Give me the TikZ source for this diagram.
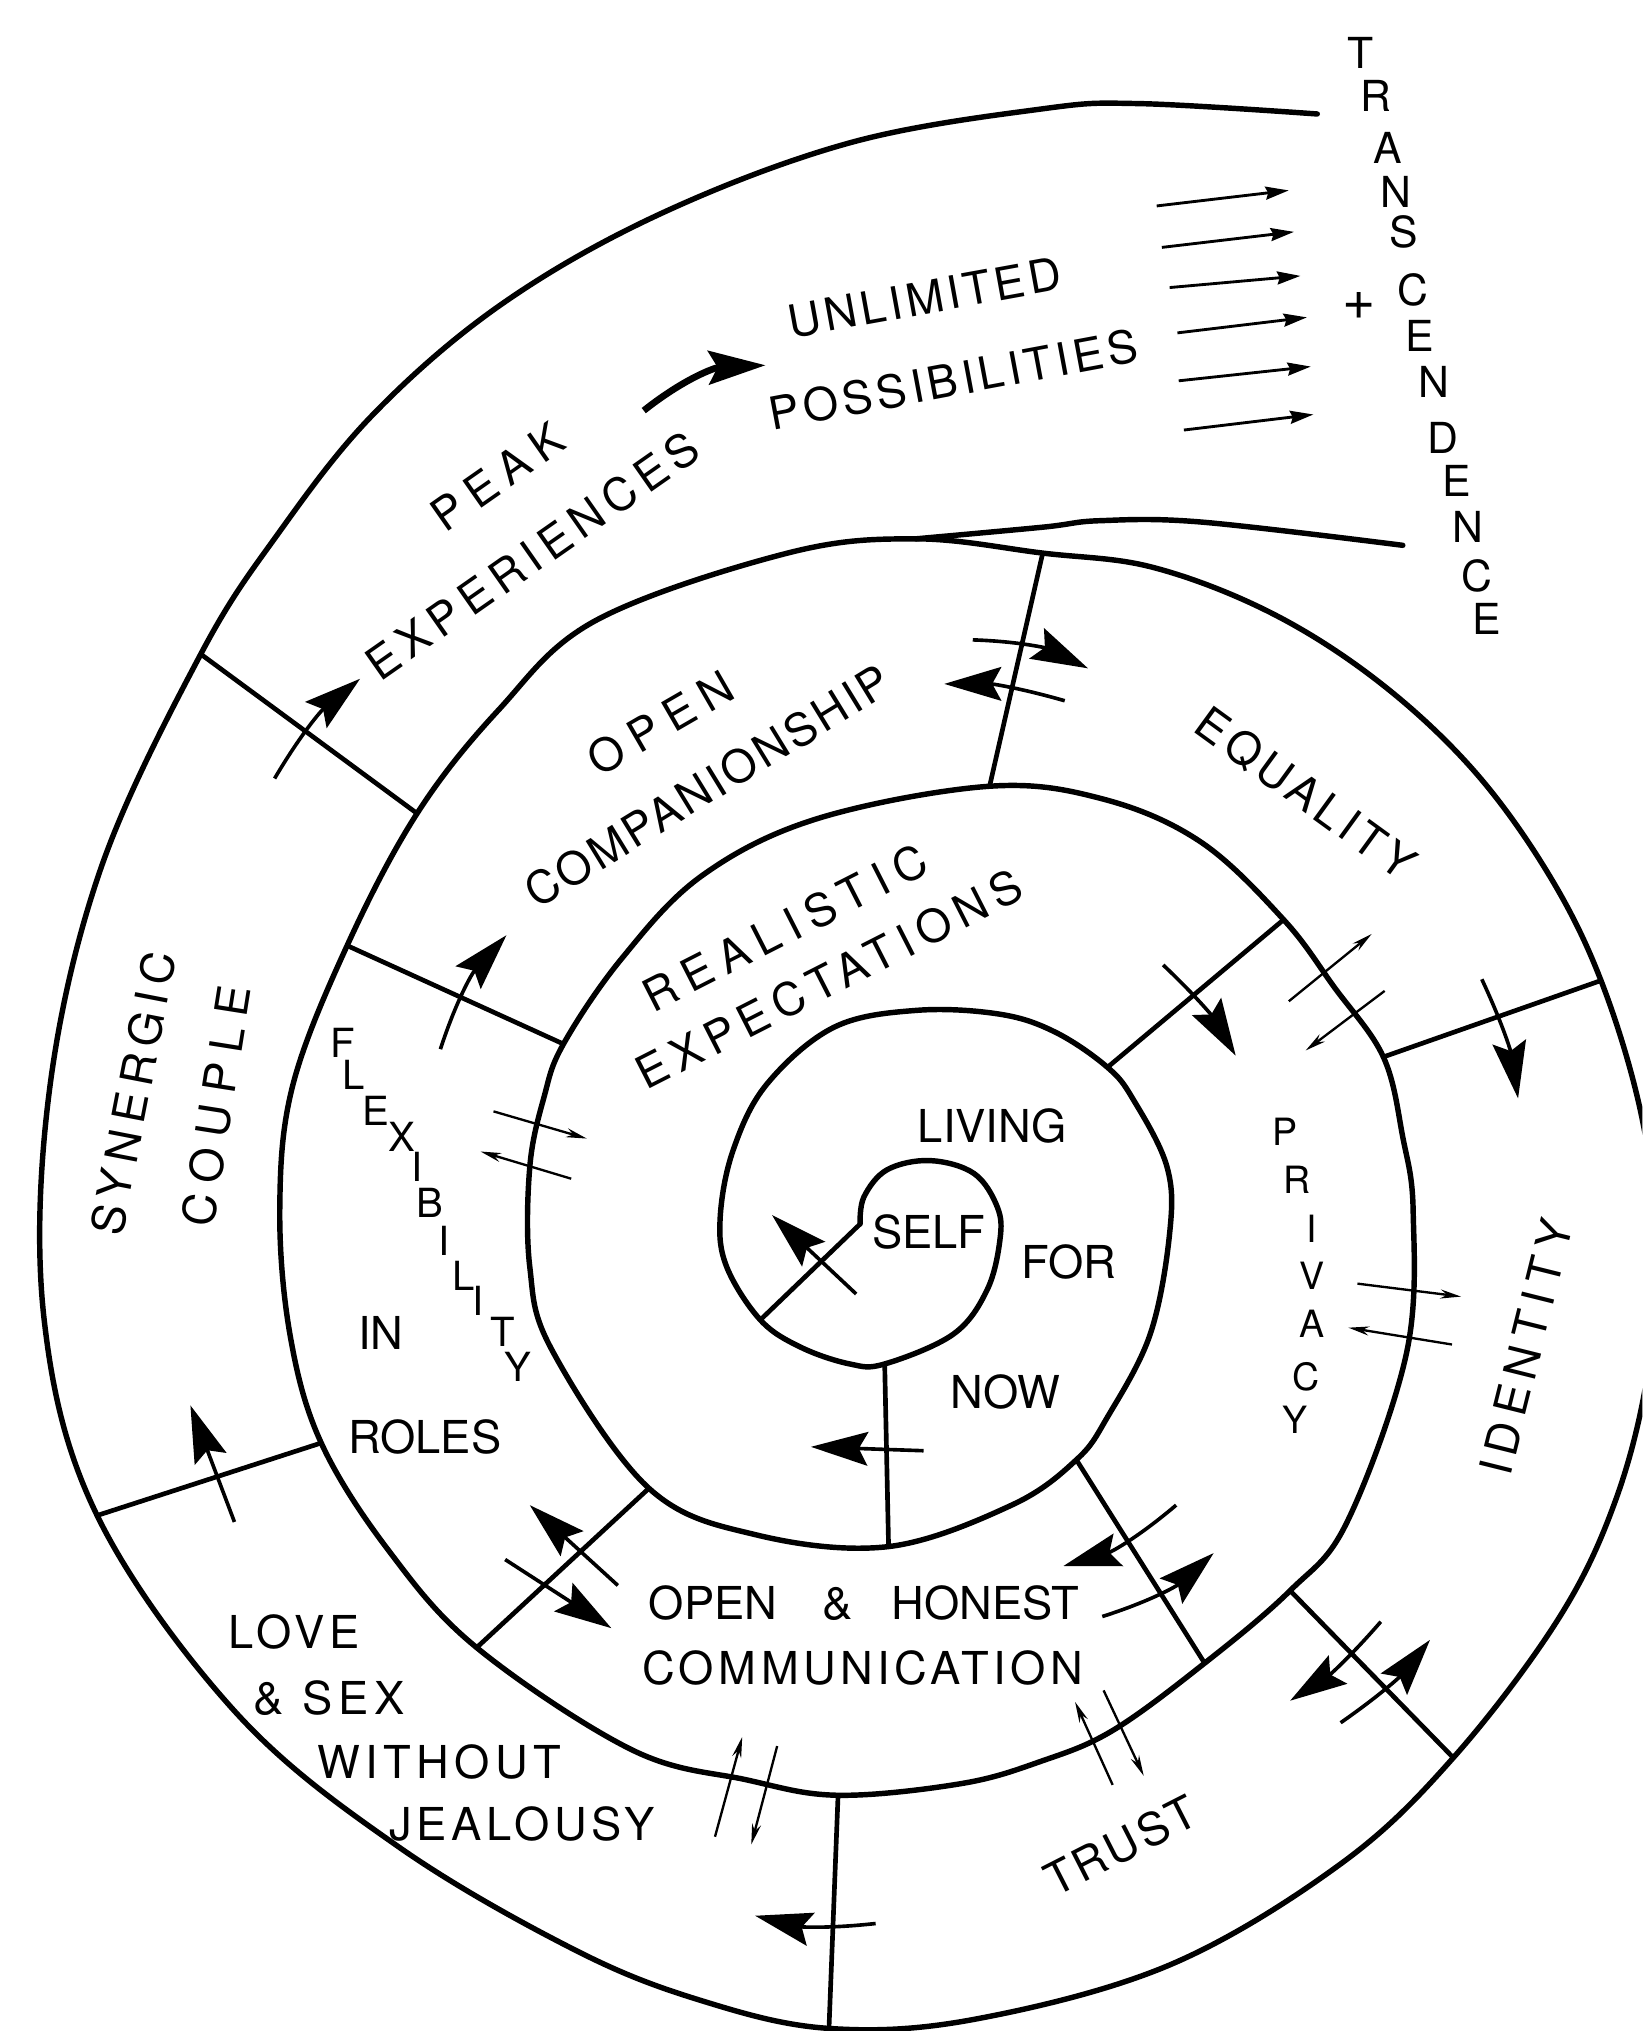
\documentclass[tikz,border=0pt]{standalone}
\usepackage{fontspec}
\setmainfont{TeX Gyre Heros}
\usetikzlibrary{arrows.meta}
\newcommand\labsize{\fontsize{17.5}{20}\selectfont}
\tikzset{
  wall/.style={line width=2.1pt, line cap=round, line join=round},
  bar/.style={line width=1.8pt},
  bigarrow/.style={line width=1.4pt, -{Stealth[length=22pt,width=13pt,inset=3.5pt]}},
  thinarrow/.style={line width=0.9pt, -{Stealth[length=8pt,width=3.5pt]}},
  farrow/.style={line width=1.1pt, -{Stealth[length=9pt,width=5pt,inset=1pt]}},
  lab/.style={font=\labsize, inner sep=0pt},
  wide/.style={font=\labsize\addfontfeatures{LetterSpace=#1}, inner sep=0pt},
  glyph/.style={font=\fontsize{#1}{#1}\selectfont, inner sep=0pt}
}
\begin{document}
\begin{tikzpicture}[x=0.5pt,y=-0.5pt]
\useasboundingbox (0,0) rectangle (1268,1568);
\clip (0,0) rectangle (1268,1568);

% points where the dividers meet the spiral
\coordinate (cusp) at (664,945);
\coordinate (s1) at (587,1019);
\coordinate (v1) at (683,1053);
\coordinate (v2) at (686,1194);
\coordinate (p3) at (855,824);
\coordinate (q3) at (991,710);
\coordinate (p4) at (831,1127);
\coordinate (q4) at (930,1284);
\coordinate (p5) at (501,1149);
\coordinate (q5) at (368,1272);
\coordinate (p6) at (435,806);
\coordinate (q6) at (268,730);
\coordinate (p7) at (764,607);
\coordinate (q7) at (805,427);
\coordinate (p8) at (1068,816);
\coordinate (q8) at (1236,757);
\coordinate (pit) at (996,1228);
\coordinate (qit) at (1122,1357);
\coordinate (ptl) at (647,1386);
\coordinate (qtl) at (640,1566);
\coordinate (pls) at (248,1114);
\coordinate (qls) at (75,1170);
\coordinate (psp) at (322,628);
\coordinate (qsp) at (155,505);
\coordinate (br) at (707,416);

% the spiral
\draw[wall] plot[smooth,tension=0.6] coordinates {
  (cusp) (667,924) (685,903) (718,896) (752,906) (770,932) (772,957)
  (762,996) (736,1030) (v1) (656,1053) (618,1040) (s1) (561,978)
  (556,940) (566,888) (592,837) (644,793) (708,780) (772,783) (815,797)
  (p3) (875,849) (901,901) (903,952) (888,1030) (855,1094) (p4) (781,1162)
  (v2) (584,1185) (p5) (426,1042) (409,978) (409,901) (420,847) (p6)
  (480,740) (542,676) (631,632) (p7) (852,617) (927,650) (q3) (1030,762)
  (p8) (1083,878) (1091,935) (1086,1044) (1040,1175) (pit) (q4) (859,1336)
  (803,1360) (742,1377) (ptl) (576,1374) (488,1351) (q5) (300,1197) (pls)
  (224,1031) (216,933) (226,838) (q6) (psp) (385,548) (460,479) (608,427)
  (br) (q7) (890,438) (981,473) (1064,526) (1137,594) (1195,674) (q8)
  (1267,860) (1279,960) (1272,1061) (1247,1159) (1203,1250) (qit)
  (1035,1439) (903,1517) (752,1559) (qtl) (543,1545) (445,1506) (308,1426)
  (182,1322) (qls) (34,1018) (38,843) (78,670) (qsp) (214,413) (288,320)
  (387,235) (510,165) (657,110) (805,84) (880,80) (1017,88)};
\draw[wall] plot[smooth,tension=0.6] coordinates {
  (br) (805,407) (849,402) (927,403) (1083,421)};

% dividers
\foreach \a/\b in {cusp/s1, v1/v2, p3/q3, p4/q4, p5/q5, p6/q6, p7/q7,
                   p8/q8, pit/qit, ptl/qtl, pls/qls, psp/qsp}
  \draw[bar] (\a) -- (\b);

% big arrows
\foreach \n/\x/\y in {a1/661/999, b1/596/938, a2/713/1120, b2/626/1117,
    a3/898/745, b3/954/815, a4/1144/756, b4/1172/848,
    a5/908/1162, b5/821/1209, a6/851/1248, b6/937/1199,
    a7/477/1224, b7/409/1162, a8/390/1204, b8/472/1257,
    a9/676/1485, b9/583/1479, a10/181/1175, b10/147/1085,
    a11/212/601, b11/278/524, a12/340/810, b12/391/722,
    a13/751/494, b13/840/516, a14/822/541, b14/729/528,
    a15/497/317, b15/591/282, a16/1066/1252, b16/996/1313,
    a17/1035/1330, b17/1104/1266}
  \coordinate (\n) at (\x,\y);
\foreach \i in {1,2,7,8,10}
  \draw[bigarrow] (a\i) -- (b\i);
\foreach \i/\b in {3/8,4/8,5/12,9/10,11/10,12/12,13/12,16/8}
  \draw[bigarrow] (a\i) to[bend left=\b] (b\i);
\foreach \i/\b in {6/12,14/8,17/8}
  \draw[bigarrow] (a\i) to[bend right=\b] (b\i);
\draw[bigarrow,line width=2.6pt] (a15) to[bend left=18] (b15);

% thin double arrows
\foreach \n/\x/\y in {c1/381/858, d1/453/879, c2/441/910, d2/371/889,
    c3/995/773, d3/1059/721, c4/1069/765, d4/1008/811,
    c5/1048/991, d5/1128/1001, c6/1121/1038, d6/1041/1025,
    c7/859/1378, d7/830/1314, c8/852/1305, d8/883/1371,
    c9/552/1418, d9/573/1341, c10/600/1348, d10/580/1424}
  \coordinate (\n) at (\x,\y);
\foreach \i in {1,...,10}
  \draw[thinarrow] (c\i) -- (d\i);

% arrows to transcendence
\foreach \sx/\sy/\ex/\ey [count=\i] in {893/159/995/147, 897/191/999/179,
    903/222/1004/213, 909/257/1009/245, 910/294/1012/283, 914/332/1014/320}{
  \coordinate (ts\i) at (\sx,\sy);
  \coordinate (te\i) at (\ex,\ey);
  \draw[farrow] (ts\i) -- (te\i);
}

% labels
\node[lab] (self) at (717,951) {SELF};
\node[lab] (living) at (766,869) {LIVING};
\node[lab] (for) at (825,974) {FOR};
\node[lab] (now) at (776,1075) {NOW};
\node[lab] (in) at (294,1029) {IN};
\node[lab] (roles) at (328,1109) {ROLES};
\node[wide=10] (love) at (227,1260) {LOVE};
\node[wide=13] (sex) at (254,1311) {\& SEX};
\node[wide=12] (without) at (339,1360) {WITHOUT};
\node[wide=10] (jealousy) at (403,1408) {JEALOUSY};
\node[lab] (honest) at (667,1238) {OPEN\hspace{1em}\&\hspace{0.85em}HONEST};
\node[wide=10] (comm) at (666,1288) {COMMUNICATION};
\node[wide=8,rotate=27] (trust) at (865,1425) {TRUST};
\node[wide=17,rotate=76] (identity) at (1178,1040) {IDENTITY};
\node[wide=11,rotate=-36] (equality) at (1008,613) {EQUALITY};
\node[wide=23,rotate=30] (open) at (510,558) {OPEN};
\node[wide=7,rotate=31.5] (compan) at (546,607) {COMPANIONSHIP};
\node[wide=22,rotate=27] (realistic) at (606,716) {REALISTIC};
\node[wide=17,rotate=27] (expect) at (640,756) {EXPECTATIONS};
\node[wide=22,rotate=35] (peak) at (384,368) {PEAK};
\node[wide=16,rotate=35] (exper) at (411,429) {EXPERIENCES};
\node[wide=9,rotate=10.3] (unlim) at (714,230) {UNLIMITED};
\node[wide=10,rotate=10.6] (poss) at (736,293) {POSSIBILITIES};
\node[wide=17,rotate=79] (synergic) at (103,844) {SYNERGIC};
\node[wide=25,rotate=81] (couple) at (167,854) {COUPLE};
\node[glyph=22] (plus) at (1049,236) {+};

\foreach \c/\x/\y [count=\i] in {P/992/874, R/1001/911, I/1013/949,
    V/1013/985, A/1013/1022, C/1008/1063, Y/1000/1096}
  \node[glyph=14.5] (priv\i) at (\x,\y) {\c};
\foreach \c/\x/\y [count=\i] in {F/265/805, L/273/830, E/290/858,
    X/310/878, I/322/901, B/332/929, I/343/958, L/358/985, I/369/1004,
    T/388/1028, Y/400/1055}
  \node[glyph=15.5] (flex\i) at (\x,\y) {\c};
\foreach \c/\x/\y [count=\i] in {T/1050/41, R/1062/74, A/1071/114,
    N/1078/148, S/1084/179, C/1091/224, E/1096/259, N/1107/295,
    D/1114/338, E/1125/371, N/1133/407, C/1140/445, E/1148/478}
  \node[glyph=16.5] (trans\i) at (\x,\y) {\c};

\end{tikzpicture}
\end{document}
